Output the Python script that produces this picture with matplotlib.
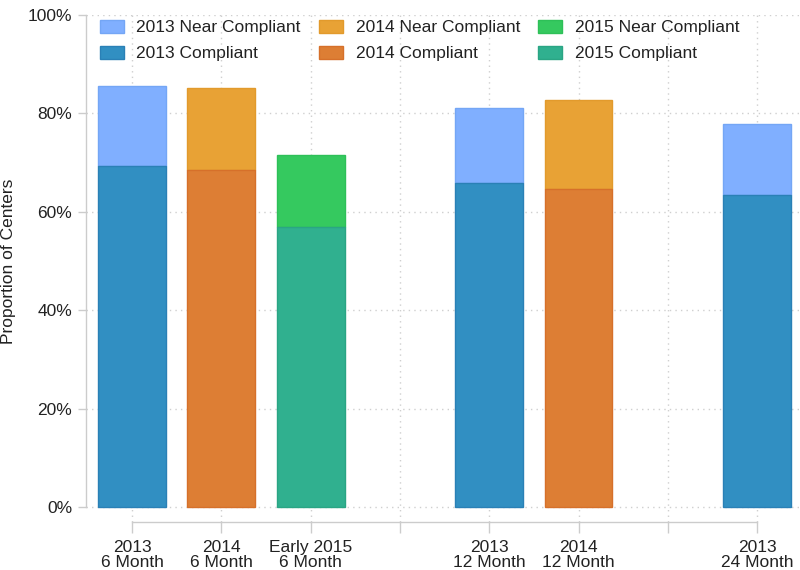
import matplotlib
matplotlib.use("Agg")
import matplotlib.pyplot as plt
from matplotlib.patches import Patch

plt.rcParams['font.family'] = ['Liberation Sans', 'DejaVu Sans']

# Data
positions = [1, 2, 3, 5, 6, 8]
cohorts = ["2013", "2014", "2015", "2013", "2014", "2013"]
compliant = [69.3, 68.6, 56.9, 65.8, 64.6, 63.4]
total = [85.6, 85.2, 71.5, 81.1, 82.8, 77.9]
tick_positions = [1, 2, 3, 4, 5, 6, 7, 8]
tick_labels = ["2013\n6 Month", "2014\n6 Month", "Early 2015\n6 Month", "",
               "2013\n12 Month", "2014\n12 Month", "", "2013\n24 Month"]
legend_years = ["2013", "2014", "2015"]

near_colors = {"2013": "#80AFFF", "2014": "#E8A235", "2015": "#35C95F"}
near_edges = {"2013": "#74A6F5", "2014": "#E29A2C", "2015": "#2EC058"}
comp_colors = {"2013": "#318FC2", "2014": "#DD7E34", "2015": "#30B08F"}
comp_edges = {"2013": "#2A80B6", "2014": "#D6702A", "2015": "#2AA584"}

fig = plt.figure(figsize=(8, 5.7), dpi=100)
W, H = 800, 570
left_px, right_px, top_px, bottom_px = 86, 800, 15, 521.7
ax = fig.add_axes([left_px / W, 1 - bottom_px / H,
                   (right_px - left_px) / W, (bottom_px - top_px) / H])

width = 0.76
for x, c, comp, tot in zip(positions, cohorts, compliant, total):
    ax.bar(x, comp, width=width, color=comp_colors[c], edgecolor=comp_edges[c],
           linewidth=1.0, zorder=3)
    ax.bar(x, tot - comp, bottom=comp, width=width, color=near_colors[c],
           edgecolor=near_edges[c], linewidth=1.0, zorder=2)

ax.set_xlim(0.485, 8.48)
ax.set_ylim(-2.9, 100)

spine_col = "#CCCCCC"
for s in ["top", "right"]:
    ax.spines[s].set_visible(False)
ax.spines["left"].set_bounds(0, 100)
ax.spines["bottom"].set_bounds(1, 8)
for s in ["left", "bottom"]:
    ax.spines[s].set_color(spine_col)
    ax.spines[s].set_linewidth(1.0)

ax.set_yticks([0, 20, 40, 60, 80, 100])
ax.set_yticklabels(["0%", "20%", "40%", "60%", "80%", "100%"])
ax.set_xticks(tick_positions)
ax.set_xticklabels(tick_labels, linespacing=1.0)

ax.tick_params(axis="y", length=6, width=1, color=spine_col, pad=4,
               labelsize=12.5, labelcolor="#222222")
ax.tick_params(axis="x", length=8, width=1, color=spine_col, pad=5,
               labelsize=12.5, labelcolor="#222222")

ax.grid(True, axis="both", linestyle=(0, (1, 3)), color="#CFCFCF", linewidth=1.0, zorder=0)
ax.set_axisbelow(True)

fig.text(9 / W, 1 - 261 / H, "Proportion of Centers", rotation=90,
         ha="center", va="center", fontsize=12.5, color="#222222")

handles = []
for y in legend_years:
    handles.append(Patch(facecolor=near_colors[y], edgecolor=near_edges[y],
                         label=f"{y} Near Compliant"))
    handles.append(Patch(facecolor=comp_colors[y], edgecolor=comp_edges[y],
                         label=f"{y} Compliant"))
leg = fig.legend(handles=handles, ncol=3, loc="upper left",
                 bbox_to_anchor=(100 / W, 1 - 20 / H), frameon=False,
                 fontsize=12.5, handlelength=1.4, handleheight=0.75,
                 handletextpad=0.7, columnspacing=1.05, labelspacing=0.6,
                 borderpad=0, borderaxespad=0)
for t in leg.get_texts():
    t.set_color("#222222")

fig.savefig("out.png", dpi=100)
